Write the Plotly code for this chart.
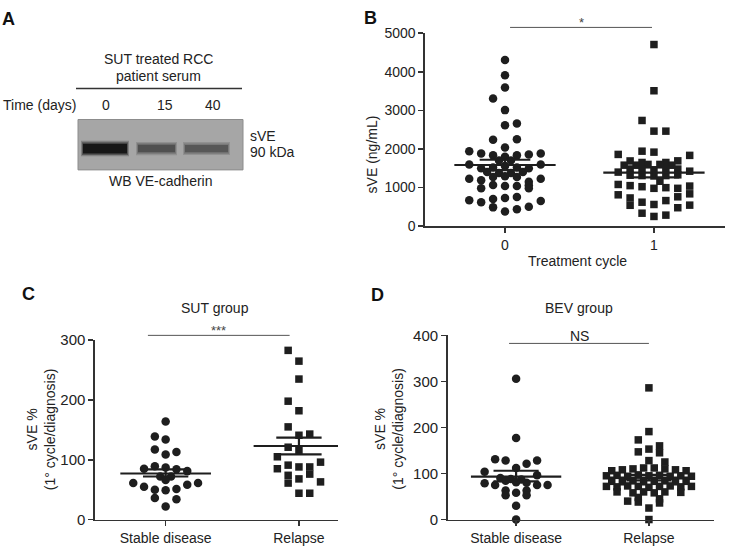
import plotly.graph_objects as go

# ---------------- DATA ----------------
# Panel A: western blot lanes
blot_days = ["0", "15", "40"]
band_intensity = [1.0, 0.55, 0.5]

# Panel B: sVE (ng/mL) per treatment cycle; (column slot, value)
b_categories = ["0", "1"]
b0_cols = [0, 0, 0, -1, 0, 0, 1, -1, 1, 0,
           -3, -2, -1, 0, 1, 2, 3, -3, 3,
           -0.5, 0.5, -2, -1, 0, 1, 2, -1.5, -0.5, 0.5, 1.5,
           -3, -2, -1, 0, 1, 2, 3,
           -2, -1, 0, 1, 2, 2,
           -3, -2, -1, 0, 1, 3,
           -1, 0, 1, 2]
b0_vals = [4305, 3911, 3593, 3308, 3007, 2613, 2663, 2236, 2253, 2040,
           1943, 1884, 1834, 1801, 1834, 1859, 1884, 1600, 1600,
           1700, 1700, 1500, 1520, 1560, 1520, 1500, 1400, 1380, 1380, 1400,
           1231, 1189, 1273, 1290, 1273, 1150, 1231,
           980, 1064, 1038, 1038, 1060, 980,
           670, 620, 703, 729, 754, 653,
           486, 377, 435, 502]
b1_cols = [0, 0, -1, 0, 1,
           -3, -1, 0, 3,
           -2, -1, 1, 2,
           -2.5, -1.5, -0.5, 0.5, 1.5,
           -2, -1, 0, 1, 2,
           -3, 3,
           -2, -1, 0, 1, 2,
           0.5,
           -3, -2, -1, 0, 1, 2, 3,
           -3, 2, 3,
           -2, -2, -1, 0, 1, 2, 3,
           -1, 0, 1]
b1_vals = [4707, 3509, 2739, 2462, 2462,
           1859, 1943, 1918, 1834,
           1690, 1650, 1650, 1692,
           1580, 1580, 1600, 1600, 1580,
           1480, 1470, 1460, 1470, 1480,
           1400, 1424,
           1320, 1310, 1300, 1310, 1330,
           1164,
           1080, 1050, 1022, 980, 997, 980, 1038,
           812, 760, 837,
           730, 540, 620, 561, 662, 477, 544,
           335, 251, 285]
b_mean = [1585, 1385]
b_sem_lo = [1450, 1265]
b_sem_hi = [1720, 1520]

# Panel C: SUT group, sVE % (1st cycle / diagnosis)
cd_categories = ["Stable disease", "Relapse"]
c0_cols = [0, -1, 0, -1, 1, 0, -2, -1, 0, 1, 2, -0.5, 0.5, 0,
           -3, -2, -1, 0, 1, 2, 3, -1, 1, 0]
c0_vals = [164, 139, 134, 117, 113, 109, 85, 89, 87, 84, 81, 72, 72, 66,
           61, 55, 50, 49, 51, 58, 61, 36, 34, 22]
c1_cols = [-1, 0, 0, -1, 0, -1, 0, 1, -1, 0, -2, -2, -1, 0, 1, 1, 2,
           -1, 0, 2, -1, 0, 1]
c1_vals = [283, 265, 235, 198, 182, 155, 141, 143, 121, 116, 105, 85, 91, 88,
           88, 76, 96, 74, 68, 63, 61, 44, 44]
c_mean = [77, 123]
c_sem_lo = [72, 109]
c_sem_hi = [84, 137]

# Panel D: BEV group
d0_cols = [0, 0, -2, -1, 1, 2, -3, 0, 2, -1.5, -0.5, 0.5,
           -3, -2, -1, 0, 1, 2, 3, -1, 0, 1, -1, 1, 0, 0]
d0_vals = [306, 177, 131, 128, 121, 128, 104, 112, 96, 90, 88, 87,
           79, 75, 84, 81, 80, 75, 75, 63, 58, 63, 53, 53, 30, 0]
d1_cols = [0, 0, -1, -1, 0, 1, 1, 0, 1.5,
           -3.5, -2.5, -1.5, -0.5, 0.5, 1.5, 2.5, 3.5,
           -4, -3, -2, -1, 0, 1, 2, 3, 4,
           -3.5, -2.5, -1.5, -0.5, 0.5, 1.5, 2.5, 3.5,
           -4, -3, -2, -1, 0, 1, 2, 3, 4,
           -3, -1.5, -0.5, 0.5, 1.5, 3,
           -2, -1, -1, 0, 1, 1, 0]
d1_vals = [286, 191, 173, 147, 153, 160, 145, 128, 125,
           106, 108, 110, 112, 112, 110, 108, 106,
           95, 96, 94, 97, 95, 96, 94, 95, 94,
           83, 82, 84, 82, 83, 84, 82, 83,
           72, 71, 73, 72, 70, 72, 73, 71, 72,
           60, 58, 60, 58, 60, 59,
           40, 38, 48, 25, 45, 36, 0]
d_mean = [93, 91]
d_sem_lo = [83, 85]
d_sem_hi = [106, 97]

# ---------------- STYLE ----------------
W, H = 732, 554
FONT = "Liberation Sans, Arial, Helvetica, sans-serif"
INK = "#1e1e1e"
AX = "#333333"


def PX(x):
    return x / W


def PY(y):
    return 1 - y / H


fig = go.Figure()


def add_group(xa, ya, cat, cols, vals, symbol, size, slot):
    fig.add_trace(go.Scatter(
        x=[cat + c * slot for c in cols], y=vals, mode="markers",
        marker=dict(symbol=symbol, size=size, color=INK, line=dict(width=0)),
        xaxis=xa, yaxis=ya, cliponaxis=False, showlegend=False, hoverinfo="skip"))


def add_stats(xa, ya, means, lo, hi, half=0.34, semhalf=0.17):
    xs, ys = [], []
    for i, m in enumerate(means):
        xs += [i - half, i + half, None, i - semhalf, i + semhalf, None,
               i - semhalf, i + semhalf, None, i, i, None]
        ys += [m, m, None, hi[i], hi[i], None, lo[i], lo[i], None, lo[i], hi[i], None]
    fig.add_trace(go.Scatter(x=xs, y=ys, mode="lines",
                             line=dict(color=INK, width=2.2),
                             xaxis=xa, yaxis=ya, showlegend=False, hoverinfo="skip",
                             cliponaxis=False))


# Panel B
add_group("x", "y", 0, b0_cols, b0_vals, "circle", 8.5, 0.08)
add_group("x", "y", 1, b1_cols, b1_vals, "square", 7.5, 0.08)
add_stats("x", "y", b_mean, b_sem_lo, b_sem_hi)
# Panel C
add_group("x2", "y2", 0, c0_cols, c0_vals, "circle", 8.5, 0.081)
add_group("x2", "y2", 1, c1_cols, c1_vals, "square", 7.5, 0.081)
add_stats("x2", "y2", c_mean, c_sem_lo, c_sem_hi)
# Panel D
add_group("x3", "y3", 0, d0_cols, d0_vals, "circle", 8.5, 0.079)
add_group("x3", "y3", 1, d1_cols, d1_vals, "square", 7.5, 0.08)
add_stats("x3", "y3", d_mean, d_sem_lo, d_sem_hi)

axis_common = dict(showline=True, linecolor=AX, linewidth=1.6, ticks="outside",
                   ticklen=5, tickwidth=1.5, tickcolor=AX, showgrid=False,
                   zeroline=False, fixedrange=True,
                   tickfont=dict(family=FONT, size=14, color="#222"))

fig.update_layout(
    width=W, height=H, margin=dict(l=0, r=0, t=0, b=0),
    paper_bgcolor="white", plot_bgcolor="white", showlegend=False,
    hovermode=False, dragmode=False,
    xaxis=dict(domain=[PX(425), PX(725)], range=[-0.537, 1.477], anchor="y",
               tickvals=[0, 1], ticktext=b_categories, **axis_common),
    yaxis=dict(domain=[PY(224), PY(25)], range=[0, 5000], anchor="x",
               tickvals=[0, 1000, 2000, 3000, 4000, 5000], **axis_common),
    xaxis2=dict(domain=[PX(95), PX(338)], range=[-0.53, 1.293], anchor="y2",
                tickvals=[0, 1], ticktext=cd_categories, **axis_common),
    yaxis2=dict(domain=[PY(526.7), PY(341.7)], range=[0, 300], anchor="x2",
                tickvals=[0, 100, 200, 300], **axis_common),
    xaxis3=dict(domain=[PX(447.7), PX(714)], range=[-0.515, 1.49], anchor="y3",
                tickvals=[0, 1], ticktext=cd_categories, **axis_common),
    yaxis3=dict(domain=[PY(526.7), PY(336.7)], range=[0, 400], anchor="x3",
                tickvals=[0, 100, 200, 300, 400], **axis_common),
)
fig.layout.yaxis2.tickfont.size = 15
fig.layout.yaxis3.tickfont.size = 15

shapes = []
annots = []


def text(x, y, s, size=14, xanchor="center", bold=False, angle=0, color="#222"):
    annots.append(dict(x=PX(x), y=PY(y), xref="paper", yref="paper", text=s,
                       showarrow=False, xanchor=xanchor, yanchor="middle",
                       textangle=angle,
                       font=dict(family=FONT, size=size, color=color)))


def prect(x0, y0, x1, y1, fill, opacity=1.0, line=None):
    shapes.append(dict(type="rect", xref="paper", yref="paper", x0=PX(x0), x1=PX(x1),
                       y0=PY(y1), y1=PY(y0), fillcolor=fill, opacity=opacity,
                       line=line or dict(width=0)))


# Panel A (western blot)
shapes.append(dict(type="line", xref="paper", yref="paper", x0=PX(76), x1=PX(242),
                   y0=PY(82), y1=PY(82), line=dict(color=AX, width=1.5)))
prect(78, 114, 243, 166, "#a6a6a6", line=dict(color="#8c8c8c", width=1))
lane_x = [(83, 127), (138, 175), (185, 228)]
lane_c = [106, 165, 213]
for (x0, x1), k in zip(lane_x, band_intensity):
    g = int(150 - k * 130)
    hh = 2.5 + 2.5 * k
    prect(x0 - 2, 144 - hh - 3, x1 + 2, 144 + hh + 3, "rgb(%d,%d,%d)" % (g, g, g), 0.25)
    prect(x0 - 1, 144 - hh - 1.5, x1 + 1, 144 + hh + 1.5, "rgb(%d,%d,%d)" % (g, g, g), 0.4)
    prect(x0, 144 - hh, x1, 144 + hh, "rgb(%d,%d,%d)" % (g, g, g), 0.95)
text(158, 52, "SUT treated RCC")
text(158, 69, "patient serum")
text(39, 99, "Time (days)")
for d, cx in zip(blot_days, lane_c):
    text(cx, 99, d)
text(248, 131, "sVE", xanchor="left")
text(248, 148, "90 kDa", xanchor="left")
text(160, 177, "WB VE-cadherin")

# Panel labels
text(8, 10, "<b>A</b>", size=18, color="#111")
text(371, 9, "<b>B</b>", size=18, color="#111")
text(28, 294, "<b>C</b>", size=18, color="#111")
text(377, 295, "<b>D</b>", size=18, color="#111")

# Axis titles
text(372, 150, "sVE (ng/mL)", angle=-90)
text(577, 260, "Treatment cycle")
text(40.5, 434, "sVE %<br>(1° cycle/diagnosis)", angle=-90)
text(389, 433, "sVE %<br>(1° cycle/diagnosis)", angle=-90)
text(215, 308, "SUT group")
text(579, 308, "BEV group")

# Significance bars
shapes.append(dict(type="line", xref="x", yref="paper", x0=0.034, x1=0.987,
                   y0=PY(19), y1=PY(19), line=dict(color="#555", width=1)))
text(581, 14, "*", size=13, color="#444")
shapes.append(dict(type="line", xref="x2", yref="paper", x0=-0.133, x1=0.93,
                   y0=PY(336.7), y1=PY(336.7), line=dict(color="#555", width=1)))
text(218, 332, "***", size=13, color="#444")
shapes.append(dict(type="line", xref="x3", yref="paper", x0=-0.053, x1=1.0,
                   y0=PY(345), y1=PY(345), line=dict(color="#555", width=1)))
text(579, 337, "NS", size=14)

fig.update_layout(shapes=shapes, annotations=annots)
fig.write_html("out.html", config={"displayModeBar": False, "staticPlot": True},
               post_script="document.body.style.margin='0';")
